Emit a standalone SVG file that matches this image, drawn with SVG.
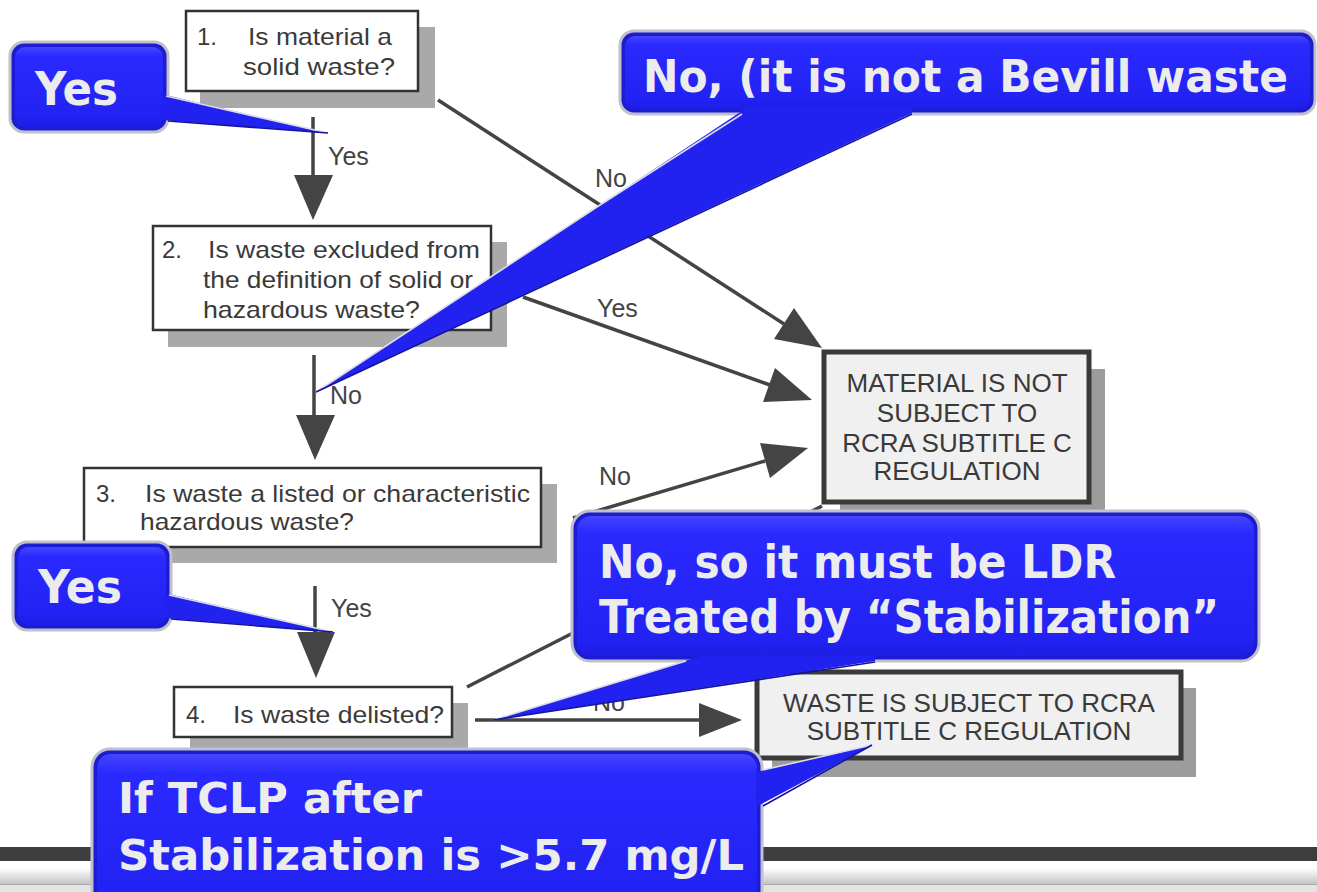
<svg xmlns="http://www.w3.org/2000/svg" width="1317" height="892" viewBox="0 0 1317 892">
<defs>
<linearGradient id="face" x1="0" y1="0" x2="0" y2="1">
<stop offset="0" stop-color="#4545ff"/>
<stop offset="0.12" stop-color="#2a2aff"/>
<stop offset="0.85" stop-color="#2222f4"/>
<stop offset="1" stop-color="#1e1ee6"/>
</linearGradient>
<linearGradient id="foot" x1="0" y1="0" x2="0" y2="1">
<stop offset="0" stop-color="#ffffff"/>
<stop offset="1" stop-color="#c4c4c4"/>
</linearGradient>
<style>
.q{fill:#ffffff;stroke:#333333;stroke-width:2.5}
.qs{fill:#a9a9a9}
.e{fill:#f0f0f0;stroke:#3a3a3a;stroke-width:5}
.es{fill:#9c9c9c}
.t{font-family:"Liberation Sans",Arial,sans-serif;font-size:24px;fill:#3a3a3a}
.et{font-family:"Liberation Sans",Arial,sans-serif;font-size:26px;fill:#3a3a3a;text-anchor:middle}
.lb{font-family:"Liberation Sans",Arial,sans-serif;font-size:25px;fill:#444444}
.ln{stroke:#444444;stroke-width:3.5;fill:none}
.ah{fill:#444444}
.co{fill:#1c1cd0;stroke:#c0c0cc;stroke-width:3}
.ci{fill:url(#face)}
.cp{fill:#2222f0}
.hl{stroke:#dcdce8;stroke-width:1.6;fill:none}
.dk{stroke:#14149c;stroke-width:1.6;fill:none}
.ct{font-family:"DejaVu Sans",Verdana,sans-serif;font-weight:bold;fill:#ececec}
</style>
</defs>
<rect width="1317" height="892" fill="#ffffff"/>

<g id="footer">
<rect x="0" y="847" width="1317" height="14" fill="#3e3e3e"/>
<rect x="0" y="868" width="1317" height="16" fill="url(#foot)"/>
<rect x="0" y="884" width="1317" height="8" fill="#e4e4e4"/>
<line x1="0" y1="884.5" x2="1317" y2="884.5" stroke="#a8a8a8" stroke-width="1"/>
</g>

<g id="connectors">
<line class="ln" x1="313" y1="117" x2="313" y2="177"/>
<polygon class="ah" points="294,175 333,175 313,220"/>
<text class="lb" x="328" y="165">Yes</text>

<line class="ln" x1="438" y1="100" x2="784" y2="324"/>
<polygon class="ah" points="774,339 794,308 822,348"/>
<text class="lb" x="595" y="187">No</text>

<line class="ln" x1="523" y1="297" x2="770" y2="385"/>
<polygon class="ah" points="763,402 775,368 812,400"/>
<text class="lb" x="597" y="317">Yes</text>

<line class="ln" x1="314" y1="355" x2="314" y2="417"/>
<polygon class="ah" points="296,415 335,415 315,460"/>
<text class="lb" x="330" y="404">No</text>

<line class="ln" x1="573" y1="518" x2="765" y2="461"/>
<polygon class="ah" points="760,443 770,478 808,448"/>
<text class="lb" x="599" y="485">No</text>

<line class="ln" x1="315" y1="586" x2="315" y2="634"/>
<polygon class="ah" points="297,632 335,632 316,678"/>
<text class="lb" x="331" y="617">Yes</text>

<line class="ln" x1="467" y1="687" x2="822" y2="506"/>

<line class="ln" x1="475" y1="720" x2="702" y2="720"/>
<polygon class="ah" points="699,703 699,737 742,720"/>
<text class="lb" x="593" y="711">No</text>
</g>

<g id="q1">
<rect class="qs" x="200" y="27" width="235" height="81"/>
<rect class="q" x="186" y="11" width="232" height="80"/>
<text class="t" x="197" y="45">1.</text>
<text class="t" x="248" y="45" textLength="144" lengthAdjust="spacingAndGlyphs">Is material a</text>
<text class="t" x="243" y="75" textLength="152" lengthAdjust="spacingAndGlyphs">solid waste?</text>
</g>

<g id="q2">
<rect class="qs" x="168" y="242" width="339" height="105"/>
<rect class="q" x="153" y="226" width="338" height="104"/>
<text class="t" x="162" y="258">2.</text>
<text class="t" x="208" y="258" textLength="272" lengthAdjust="spacingAndGlyphs">Is waste excluded from</text>
<text class="t" x="203" y="288" textLength="270" lengthAdjust="spacingAndGlyphs">the definition of solid or</text>
<text class="t" x="203" y="318" textLength="217" lengthAdjust="spacingAndGlyphs">hazardous waste?</text>
</g>

<g id="q3">
<rect class="qs" x="100" y="484" width="457" height="79"/>
<rect class="q" x="84" y="468" width="457" height="79"/>
<text class="t" x="96" y="502">3.</text>
<text class="t" x="145" y="502" textLength="385" lengthAdjust="spacingAndGlyphs">Is waste a listed or characteristic</text>
<text class="t" x="140" y="530" textLength="214" lengthAdjust="spacingAndGlyphs">hazardous waste?</text>
</g>

<g id="q4">
<rect class="qs" x="190" y="703" width="278" height="49"/>
<rect class="q" x="174" y="687" width="278" height="50"/>
<text class="t" x="186" y="723">4.</text>
<text class="t" x="233" y="723" textLength="211" lengthAdjust="spacingAndGlyphs">Is waste delisted?</text>
</g>

<g id="not-subject">
<rect class="es" x="840" y="369" width="265" height="147"/>
<rect class="e" x="824" y="352" width="265" height="150"/>
<text class="et" x="957" y="392">MATERIAL IS NOT</text>
<text class="et" x="957" y="422">SUBJECT TO</text>
<text class="et" x="957" y="452">RCRA SUBTITLE C</text>
<text class="et" x="957" y="480">REGULATION</text>
</g>

<g id="subject">
<rect class="es" x="772" y="688" width="424" height="89"/>
<rect class="e" x="757" y="672" width="424" height="86"/>
<text class="et" x="969" y="712">WASTE IS SUBJECT TO RCRA</text>
<text class="et" x="969" y="740">SUBTITLE C REGULATION</text>
</g>

<g id="callout-yes-1">
<rect class="co" x="10" y="42" width="158" height="90" rx="14"/>
<rect class="ci" x="15" y="47" width="148" height="80" rx="10"/>
<polygon class="cp" points="161,94 328,133 161,120"/>
<line class="hl" x1="166" y1="96" x2="328" y2="133"/>
<line class="dk" x1="168" y1="121" x2="328" y2="133"/>
<text class="ct" x="35" y="105" font-size="46" textLength="83" lengthAdjust="spacingAndGlyphs">Yes</text>
</g>

<g id="callout-bevill">
<rect class="co" x="620" y="31" width="695" height="83" rx="14"/>
<rect class="ci" x="625" y="36" width="685" height="73" rx="10"/>
<polygon class="cp" points="316,392 600,205 748,107 912,107 912,113"/>
<polyline class="hl" points="316,392 600,205 742,114"/>
<line class="dk" x1="912" y1="114" x2="316" y2="392"/>
<text class="ct" x="643" y="92" font-size="44" textLength="645" lengthAdjust="spacingAndGlyphs">No, (it is not a Bevill waste</text>
</g>

<g id="callout-yes-2">
<rect class="co" x="13" y="542" width="158" height="88" rx="14"/>
<rect class="ci" x="18" y="547" width="148" height="78" rx="10"/>
<polygon class="cp" points="164,593 333,632 164,618"/>
<line class="hl" x1="169" y1="595" x2="333" y2="632"/>
<line class="dk" x1="171" y1="619" x2="333" y2="632"/>
<text class="ct" x="38" y="603" font-size="46" textLength="84" lengthAdjust="spacingAndGlyphs">Yes</text>
</g>

<g id="callout-ldr">
<rect class="co" x="572" y="511" width="687" height="150" rx="18"/>
<rect class="ci" x="577" y="516" width="677" height="140" rx="14"/>
<polygon class="cp" points="493,720 701,656 875,656 875,661"/>
<line class="hl" x1="493" y1="720" x2="686" y2="661"/>
<line class="dk" x1="493" y1="720" x2="875" y2="662"/>
<text class="ct" x="599" y="578" font-size="46" textLength="517" lengthAdjust="spacingAndGlyphs">No, so it must be LDR</text>
<text class="ct" x="599" y="633" font-size="46" textLength="620" lengthAdjust="spacingAndGlyphs">Treated by “Stabilization”</text>
</g>

<g id="callout-tclp">
<rect class="co" x="92" y="749" width="670" height="170" rx="18"/>
<rect class="ci" x="97" y="754" width="660" height="160" rx="14"/>
<polygon class="cp" points="756,772 872,745 756,807"/>
<line class="hl" x1="763" y1="770" x2="872" y2="745"/>
<line class="dk" x1="763" y1="806" x2="872" y2="745"/>
<text class="ct" x="118" y="813" font-size="42" textLength="304" lengthAdjust="spacingAndGlyphs">If TCLP after</text>
<text class="ct" x="118" y="870" font-size="42" textLength="626" lengthAdjust="spacingAndGlyphs">Stabilization is &gt;5.7 mg/L</text>
</g>
</svg>
